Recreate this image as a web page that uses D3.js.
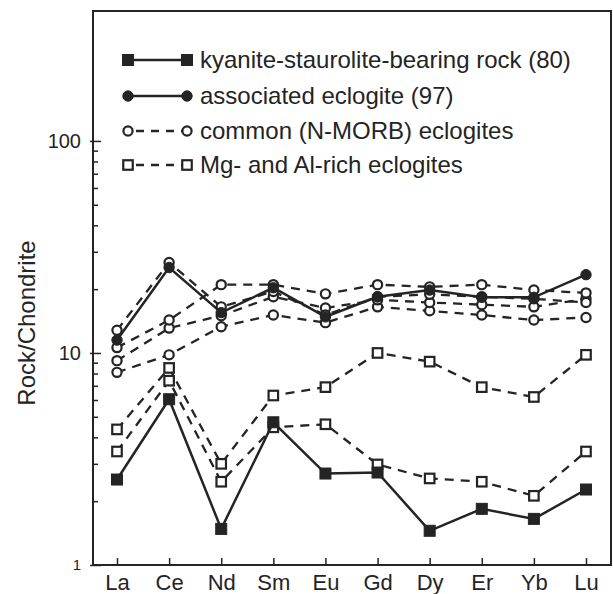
<!DOCTYPE html>
<html>
<head>
    <meta charset="UTF-8">
    <title>REE pattern</title>
    <script src="https://d3js.org/d3.v7.min.js"></script>
    <style>
        body { margin: 0; background: #fff; }
        svg { font-family: "Liberation Sans", Arial, Helvetica, sans-serif; }
    </style>
</head>
<body>
    <svg id="chart" width="613" height="594"></svg>

    <script>
        // elements on the x axis
        const elements = ["La", "Ce", "Nd", "Sm", "Eu", "Gd", "Dy", "Er", "Yb", "Lu"];

        // rock / chondrite values
        const kyaniteRock = [2.53, 6.05, 1.48, 4.71, 2.70, 2.73, 1.45, 1.84, 1.65, 2.27];
        const assocEclogite = [11.5, 25.3, 15.5, 20.3, 14.8, 18.4, 19.8, 18.3, 18.3, 23.4];

        const morb1 = [12.8, 26.7, 16.5, 19.5, 15.1, 18.4, 18.9, 18.4, 18.0, 17.3];
        const morb2 = [10.6, 14.3, 21.0, 21.0, 19.0, 21.0, 20.5, 21.0, 19.8, 19.2];
        const morb3 = [9.2, 13.1, 15.0, 18.4, 16.3, 17.8, 17.3, 16.9, 16.5, 18.0];
        const morb4 = [8.1, 9.8, 13.3, 15.1, 13.9, 16.5, 15.8, 15.1, 14.3, 14.7];

        const mgAl1 = [4.36, 8.5, 3.0, 6.3, 6.9, 10.0, 9.1, 6.9, 6.2, 9.8];
        const mgAl2 = [3.43, 7.4, 2.47, 4.46, 4.61, 2.98, 2.56, 2.47, 2.12, 3.43];

        const majorTicks = [1, 10, 100];
        const minorTicks = [2, 3, 4, 5, 6, 7, 8, 9, 20, 30, 40, 50, 60, 70, 80, 90];

        const legendLabels = [
            "kyanite-staurolite-bearing rock (80)",
            "associated eclogite (97)",
            "common (N-MORB) eclogites",
            "Mg- and Al-rich eclogites"
        ];

        const ink = "#242424";

        let svg = d3.select("svg#chart");
        let frame = { left: 93, right: 611, top: 11, bottom: 565 };

        let xScale = d3.scalePoint().domain(elements).range([117, 586]);
        let yScale = d3.scaleLog().domain([1, 410]).range([frame.bottom, frame.top]);

        // frame
        svg.append("rect")
            .attr("x", frame.left).attr("y", frame.top)
            .attr("width", frame.right - frame.left)
            .attr("height", frame.bottom - frame.top)
            .attr("fill", "none")
            .attr("stroke", ink)
            .attr("stroke-width", 2);

        // y axis: minor ticks pointing inward
        let minorAxis = d3.axisLeft(yScale)
            .tickValues(minorTicks)
            .tickSize(-5)
            .tickFormat("");
        svg.append("g")
            .attr("transform", "translate(" + frame.left + ",0)")
            .call(minorAxis)
            .call(g => g.select(".domain").remove())
            .call(g => g.selectAll("line").attr("stroke", ink).attr("stroke-width", 1.5));

        // y axis: major ticks with labels
        let majorAxis = d3.axisLeft(yScale)
            .tickValues(majorTicks)
            .tickSize(-8)
            .tickPadding(12)
            .tickFormat(d3.format("d"));
        svg.append("g")
            .attr("transform", "translate(" + frame.left + ",0)")
            .call(majorAxis)
            .call(g => g.select(".domain").remove())
            .call(g => g.selectAll("line").attr("stroke", ink).attr("stroke-width", 1.5).attr("x1", -3))
            .call(g => g.selectAll("text")
                .attr("fill", ink)
                .attr("font-family", "Liberation Sans, Arial, sans-serif")
                .style("font-size", d => d == 1 ? "15px" : "20px"));

        // x axis
        let bottomAxis = d3.axisBottom(xScale)
            .tickSize(-7)
            .tickPadding(9);
        svg.append("g")
            .attr("transform", "translate(0," + frame.bottom + ")")
            .call(bottomAxis)
            .call(g => g.select(".domain").remove())
            .call(g => g.selectAll("line").attr("stroke", ink).attr("stroke-width", 1.5))
            .call(g => g.selectAll("text")
                .attr("fill", ink)
                .attr("font-family", "Liberation Sans, Arial, sans-serif")
                .style("font-size", "22px"));

        // y label
        svg.append("text")
            .attr("transform", "translate(35,323) rotate(-90)")
            .attr("text-anchor", "middle")
            .attr("fill", ink)
            .style("font-size", "24px")
            .text("Rock/Chondrite");

        let line = d3.line()
            .x((d, i) => xScale(elements[i]))
            .y(d => yScale(d));

        let series = [
            { values: mgAl1, dashed: true, marker: "square", filled: false },
            { values: mgAl2, dashed: true, marker: "square", filled: false },
            { values: morb4, dashed: true, marker: "circle", filled: false },
            { values: morb3, dashed: true, marker: "circle", filled: false },
            { values: morb2, dashed: true, marker: "circle", filled: false },
            { values: morb1, dashed: true, marker: "circle", filled: false },
            { values: kyaniteRock, dashed: false, marker: "square", filled: true },
            { values: assocEclogite, dashed: false, marker: "circle", filled: true }
        ];

        let plot = svg.append("g").attr("id", "series");

        function drawMarker(g, type, filled, cx, cy) {
            if (type == "square") {
                let s = filled ? 11 : 9.5;
                g.append("rect")
                    .attr("x", cx - s / 2).attr("y", cy - s / 2)
                    .attr("width", s).attr("height", s)
                    .attr("fill", filled ? ink : "#fff")
                    .attr("stroke", ink)
                    .attr("stroke-width", filled ? 1 : 2.2);
            } else {
                g.append("circle")
                    .attr("cx", cx).attr("cy", cy)
                    .attr("r", filled ? 5.2 : 4.6)
                    .attr("fill", filled ? ink : "#fff")
                    .attr("stroke", ink)
                    .attr("stroke-width", filled ? 1 : 2.2);
            }
        }

        series.forEach(s => {
            let g = plot.append("g");
            g.append("path")
                .datum(s.values)
                .attr("d", line)
                .attr("fill", "none")
                .attr("stroke", ink)
                .attr("stroke-width", s.dashed ? 2.3 : 2.5)
                .attr("stroke-dasharray", s.dashed ? "9,7" : null);
            s.values.forEach((v, i) => drawMarker(g, s.marker, s.filled, xScale(elements[i]), yScale(v)));
        });

        // legend
        let legendRows = [
            { y: 60, marker: "square", filled: true, dashed: false },
            { y: 96, marker: "circle", filled: true, dashed: false },
            { y: 131, marker: "circle", filled: false, dashed: true },
            { y: 165, marker: "square", filled: false, dashed: true }
        ];
        let legend = svg.append("g").attr("id", "legend");
        legendRows.forEach((r, i) => {
            let g = legend.append("g");
            g.append("line")
                .attr("x1", 128).attr("x2", 187)
                .attr("y1", r.y).attr("y2", r.y)
                .attr("stroke", ink)
                .attr("stroke-width", 2.3)
                .attr("stroke-dasharray", r.dashed ? "8,7" : null)
                .attr("stroke-dashoffset", r.dashed ? -8 : 0);
            drawMarker(g, r.marker, r.filled, 128, r.y);
            drawMarker(g, r.marker, r.filled, 187, r.y);
            g.append("text")
                .attr("x", 200).attr("y", r.y + 8)
                .attr("fill", ink)
                .style("font-size", "24px")
                .text(legendLabels[i]);
        });
    </script>
</body>
</html>
